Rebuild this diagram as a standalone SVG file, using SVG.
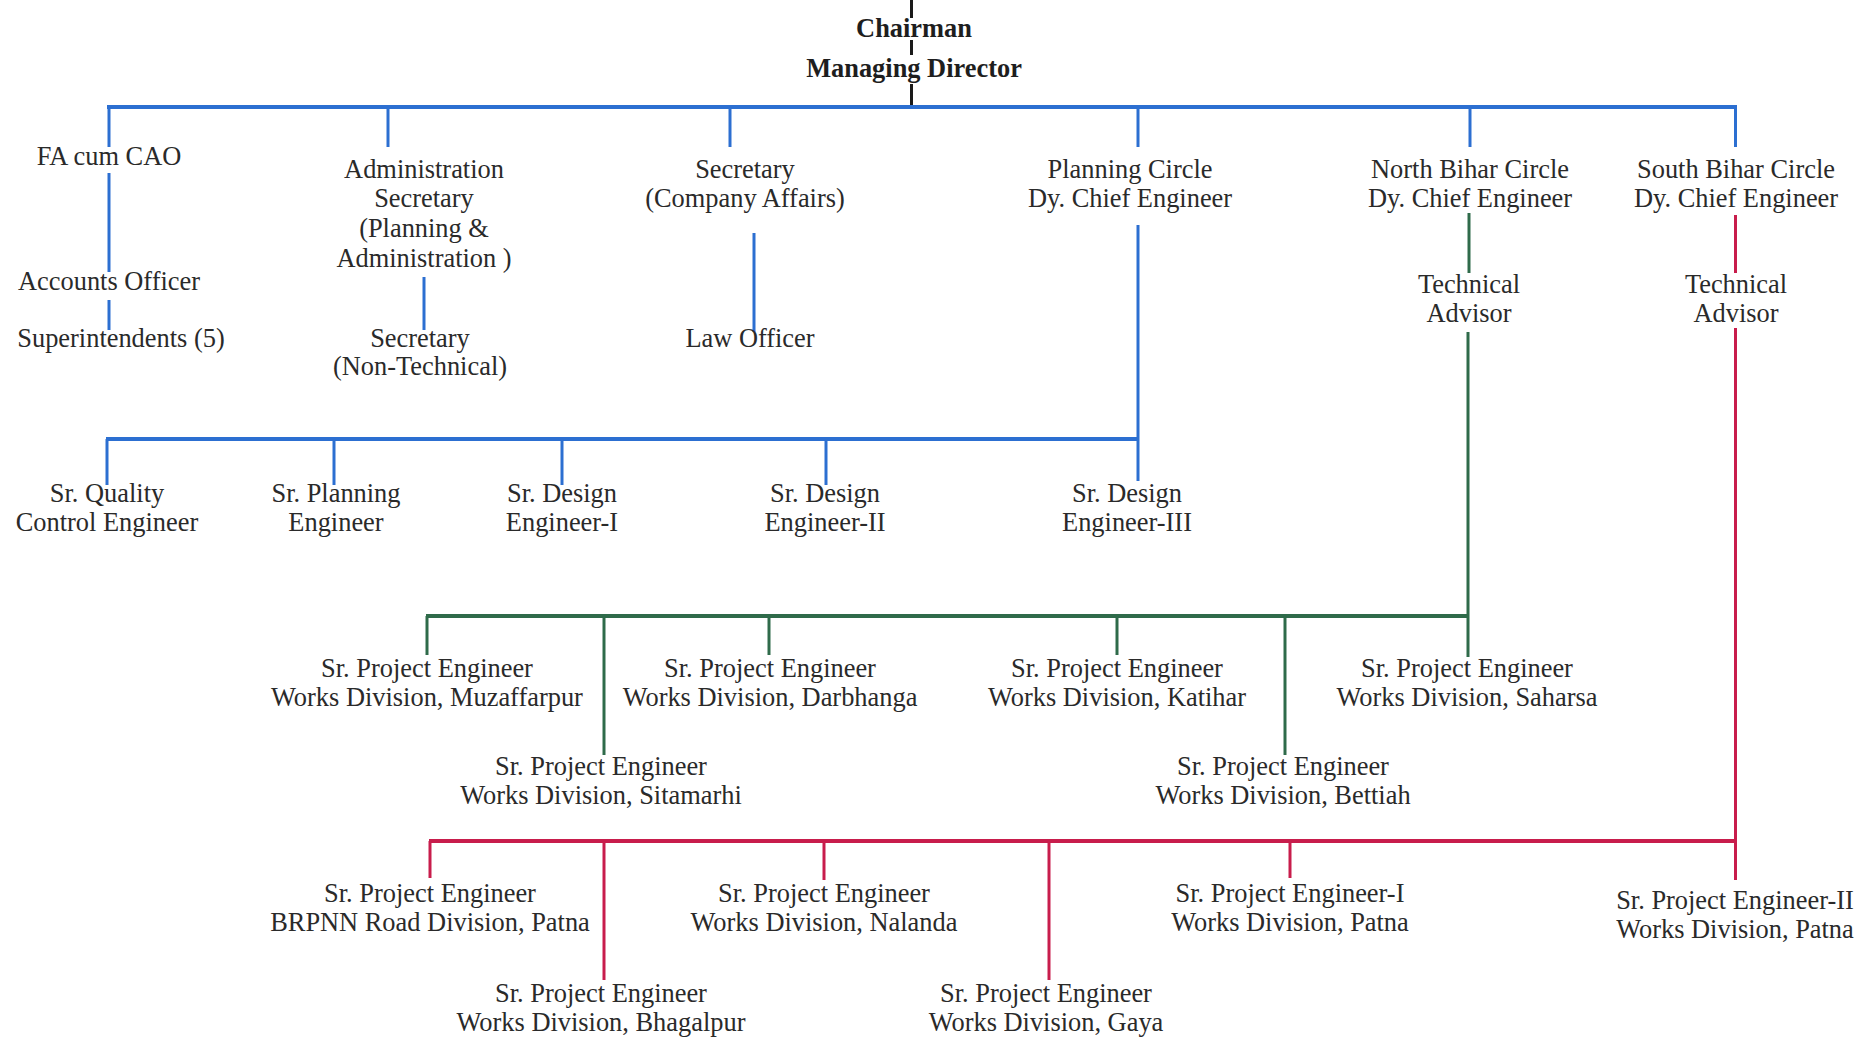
<svg xmlns="http://www.w3.org/2000/svg" width="1873" height="1039" viewBox="0 0 1873 1039">
<style>
text{font-family:"Liberation Serif","Times New Roman",serif;font-size:26.4px;fill:#2a2a2a;text-anchor:middle}
.b{font-weight:bold;fill:#1e1e1e}
line{stroke-linecap:butt}
.k{stroke:#1a1a1a;stroke-width:3}
.bl{stroke:#2c6fd1;stroke-width:3}
.blh{stroke:#2c6fd1;stroke-width:4}
.gr{stroke:#2f6b4a;stroke-width:3}
.grh{stroke:#2f6b4a;stroke-width:4}
.rd{stroke:#c81d4c;stroke-width:3}
.rdh{stroke:#c81d4c;stroke-width:4}
</style>
<rect width="1873" height="1039" fill="#ffffff"/>
<g id="connectors">
  <line class="k" x1="911.5" y1="0" x2="911.5" y2="18"/>
  <line class="k" x1="911.5" y1="40" x2="911.5" y2="55"/>
  <line class="k" x1="911.5" y1="84" x2="911.5" y2="105"/>
  <line class="blh" x1="107" y1="107" x2="1737" y2="107"/>
  <line class="bl" x1="109" y1="107" x2="109" y2="147"/>
  <line class="bl" x1="109" y1="173" x2="109" y2="272"/>
  <line class="bl" x1="109" y1="300" x2="109" y2="330"/>
  <line class="bl" x1="388" y1="107" x2="388" y2="147"/>
  <line class="bl" x1="424" y1="277" x2="424" y2="330"/>
  <line class="bl" x1="730" y1="107" x2="730" y2="147"/>
  <line class="bl" x1="754" y1="233" x2="754" y2="332"/>
  <line class="bl" x1="1138" y1="107" x2="1138" y2="147"/>
  <line class="bl" x1="1138" y1="225" x2="1138" y2="481"/>
  <line class="bl" x1="1470" y1="107" x2="1470" y2="147"/>
  <line class="bl" x1="1735.5" y1="107" x2="1735.5" y2="147"/>
  <line class="blh" x1="106" y1="439" x2="1138" y2="439"/>
  <line class="bl" x1="107" y1="439" x2="107" y2="485"/>
  <line class="bl" x1="334" y1="439" x2="334" y2="485"/>
  <line class="bl" x1="562" y1="439" x2="562" y2="485"/>
  <line class="bl" x1="826" y1="439" x2="826" y2="485"/>
  <line class="gr" x1="1469" y1="213" x2="1469" y2="273"/>
  <line class="gr" x1="1468" y1="332" x2="1468" y2="657"/>
  <line class="grh" x1="426" y1="616" x2="1469" y2="616"/>
  <line class="gr" x1="427" y1="616" x2="427" y2="655"/>
  <line class="gr" x1="604" y1="616" x2="604" y2="755"/>
  <line class="gr" x1="769" y1="616" x2="769" y2="655"/>
  <line class="gr" x1="1117" y1="616" x2="1117" y2="655"/>
  <line class="gr" x1="1285" y1="616" x2="1285" y2="755"/>
  <line class="rd" x1="1735.5" y1="215" x2="1735.5" y2="273"/>
  <line class="rd" x1="1735.5" y1="328" x2="1735.5" y2="880"/>
  <line class="rdh" x1="429" y1="841" x2="1737" y2="841"/>
  <line class="rd" x1="430" y1="841" x2="430" y2="878"/>
  <line class="rd" x1="604" y1="841" x2="604" y2="980"/>
  <line class="rd" x1="824" y1="841" x2="824" y2="880"/>
  <line class="rd" x1="1049" y1="841" x2="1049" y2="980"/>
  <line class="rd" x1="1290" y1="841" x2="1290" y2="878"/>
</g>
<g id="chairman"><text class="b" x="914" y="37">Chairman</text></g>
<g id="managing-director"><text class="b" x="914" y="77">Managing Director</text></g>
<g id="fa-cum-cao"><text x="109" y="165">FA cum CAO</text></g>
<g id="accounts-officer"><text x="109" y="290">Accounts Officer</text></g>
<g id="superintendents"><text x="121" y="347">Superintendents (5)</text></g>
<g id="admin-secretary">
  <text x="424" y="178">Administration</text>
  <text x="424" y="207">Secretary</text>
  <text x="424" y="237">(Planning &amp;</text>
  <text x="424" y="267">Administration )</text>
</g>
<g id="secretary-nontech">
  <text x="420" y="347">Secretary</text>
  <text x="420" y="375">(Non-Technical)</text>
</g>
<g id="secretary-company">
  <text x="745" y="178">Secretary</text>
  <text x="745" y="207">(Company Affairs)</text>
</g>
<g id="law-officer"><text x="750" y="347">Law Officer</text></g>
<g id="planning-circle">
  <text x="1130" y="178">Planning Circle</text>
  <text x="1130" y="207">Dy. Chief Engineer</text>
</g>
<g id="north-bihar">
  <text x="1470" y="178">North Bihar Circle</text>
  <text x="1470" y="207">Dy. Chief Engineer</text>
</g>
<g id="south-bihar">
  <text x="1736" y="178">South Bihar Circle</text>
  <text x="1736" y="207">Dy. Chief Engineer</text>
</g>
<g id="north-tech-advisor">
  <text x="1469" y="293">Technical</text>
  <text x="1469" y="322">Advisor</text>
</g>
<g id="south-tech-advisor">
  <text x="1736" y="293">Technical</text>
  <text x="1736" y="322">Advisor</text>
</g>
<g id="sr-quality">
  <text x="107" y="502">Sr. Quality</text>
  <text x="107" y="531">Control Engineer</text>
</g>
<g id="sr-planning">
  <text x="336" y="502">Sr. Planning</text>
  <text x="336" y="531">Engineer</text>
</g>
<g id="sr-design-1">
  <text x="562" y="502">Sr. Design</text>
  <text x="562" y="531">Engineer-I</text>
</g>
<g id="sr-design-2">
  <text x="825" y="502">Sr. Design</text>
  <text x="825" y="531">Engineer-II</text>
</g>
<g id="sr-design-3">
  <text x="1127" y="502">Sr. Design</text>
  <text x="1127" y="531">Engineer-III</text>
</g>
<g id="pe-muzaffarpur">
  <text x="427" y="677">Sr. Project Engineer</text>
  <text x="427" y="706">Works Division, Muzaffarpur</text>
</g>
<g id="pe-darbhanga">
  <text x="770" y="677">Sr. Project Engineer</text>
  <text x="770" y="706">Works Division, Darbhanga</text>
</g>
<g id="pe-katihar">
  <text x="1117" y="677">Sr. Project Engineer</text>
  <text x="1117" y="706">Works Division, Katihar</text>
</g>
<g id="pe-saharsa">
  <text x="1467" y="677">Sr. Project Engineer</text>
  <text x="1467" y="706">Works Division, Saharsa</text>
</g>
<g id="pe-sitamarhi">
  <text x="601" y="775">Sr. Project Engineer</text>
  <text x="601" y="804">Works Division, Sitamarhi</text>
</g>
<g id="pe-bettiah">
  <text x="1283" y="775">Sr. Project Engineer</text>
  <text x="1283" y="804">Works Division, Bettiah</text>
</g>
<g id="pe-brpnn">
  <text x="430" y="902">Sr. Project Engineer</text>
  <text x="430" y="931">BRPNN Road Division, Patna</text>
</g>
<g id="pe-nalanda">
  <text x="824" y="902">Sr. Project Engineer</text>
  <text x="824" y="931">Works Division, Nalanda</text>
</g>
<g id="pe-patna-1">
  <text x="1290" y="902">Sr. Project Engineer-I</text>
  <text x="1290" y="931">Works Division, Patna</text>
</g>
<g id="pe-patna-2">
  <text x="1735" y="909">Sr. Project Engineer-II</text>
  <text x="1735" y="938">Works Division, Patna</text>
</g>
<g id="pe-bhagalpur">
  <text x="601" y="1002">Sr. Project Engineer</text>
  <text x="601" y="1031">Works Division, Bhagalpur</text>
</g>
<g id="pe-gaya">
  <text x="1046" y="1002">Sr. Project Engineer</text>
  <text x="1046" y="1031">Works Division, Gaya</text>
</g>
</svg>
